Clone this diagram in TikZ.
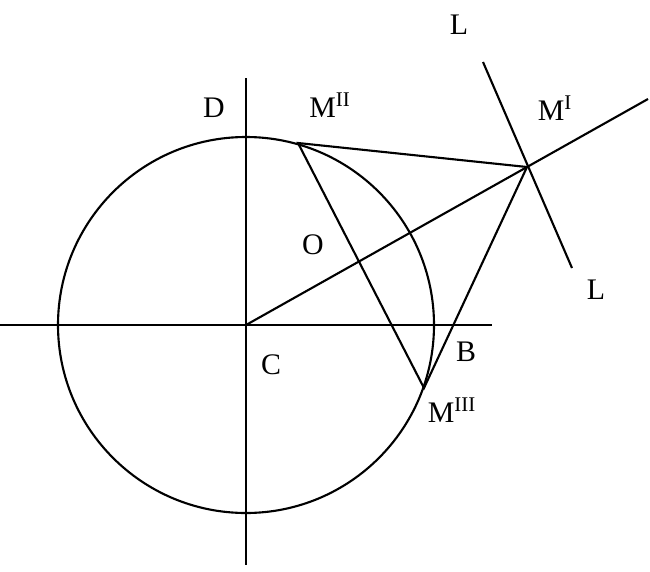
\documentclass[tikz,border=0pt]{standalone}
\usepackage{fontspec}
\setmainfont{Liberation Serif}
\tikzset{
  lbl/.style = {font=\fontsize{17}{20}\selectfont, inner sep=0pt},
  geo/.style = {line width=1.2pt}
}
\begin{document}
\begin{tikzpicture}[x=0.02cm,y=-0.02cm]
  \useasboundingbox (0,0) rectangle (650,572);
  % points
  \coordinate (C) at (246,325);
  \coordinate (MI) at (527,167);
  \coordinate (MII) at (298,143);
  \coordinate (MIII) at (424,388);
  % axes and circle
  \draw[geo] (C) circle (188);
  \draw[geo] (0,325) -- (492,325);
  \draw[geo] (246,78) -- (246,565);
  % lines
  \draw[geo] (C) -- (648,99);
  \draw[geo] (483,62) -- (572,268);
  \draw[geo] (MII) -- (MI) -- (MIII) -- cycle;
  % labels
  \node[lbl] at (214,108) {D};
  \node[lbl] at (330,105) {M\textsuperscript{II}};
  \node[lbl] at (555,108) {M\textsuperscript{I}};
  \node[lbl] at (459,25) {L};
  \node[lbl] at (596,290) {L};
  \node[lbl] at (313,245) {O};
  \node[lbl] at (271,365) {C};
  \node[lbl] at (466,352) {B};
  \node[lbl] at (452,410) {M\textsuperscript{III}};
\end{tikzpicture}
\end{document}
